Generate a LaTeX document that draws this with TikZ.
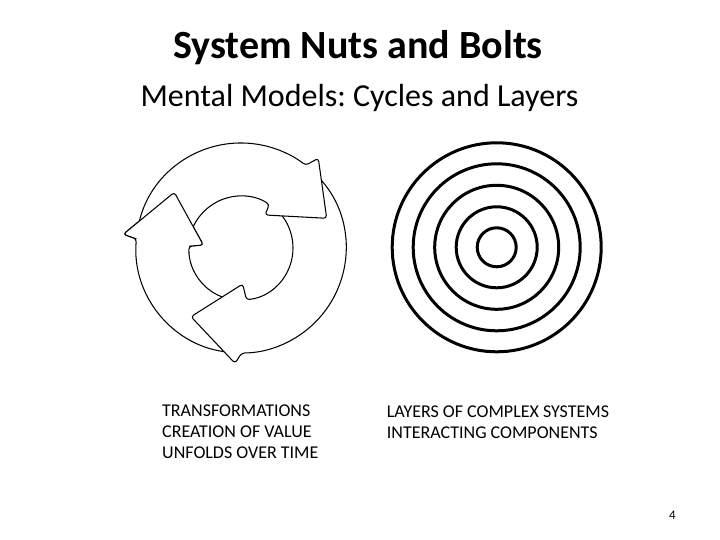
\documentclass[tikz,border=0pt]{standalone}
\usepackage{fontspec}
\setmainfont{Carlito}
\frenchspacing
\begin{document}
\begin{tikzpicture}[x=1pt,y=1pt,
  arrowshape/.style={fill=white,draw=black,line width=1.05pt,rounded corners=3pt,line join=round},
  headfill/.style={fill=white,rounded corners=3pt},
  headline/.style={draw=black,line width=1.05pt,rounded corners=3pt,line join=round},
  ring/.style={draw=black,line width=3pt},
  caption/.style={font=\fontsize{18}{21}\selectfont,align=left,anchor=north west,inner sep=0pt}]
\useasboundingbox (0,0) rectangle (720,540);
\fill[white] (0,0) rectangle (720,540);

% titles
\node[font=\bfseries\fontsize{40}{48}\selectfont,anchor=base,inner sep=0pt] (title) at (358,481.5) {System Nuts and Bolts};
\node[font=\fontsize{32}{38}\selectfont,anchor=base,inner sep=0pt] (subtitle) at (359.5,433) {Mental Models: Cycles and Layers};

% cycle of three arrows
\coordinate (cc) at (241,292);
\begin{scope}[shift={(241,292)}]
  % left arrow (body along the lower left, head on the left)
  \path[arrowshape] (262:105pt) arc[start angle=262,end angle=175,radius=105pt]
     -- (-117.7,13.7) -- (-66.7,55.7) -- (-37.7,3) -- (178:52pt)
     arc[start angle=178,end angle=262,radius=52pt] -- cycle;
  % bottom arrow (body along the right, head at the bottom)
  \path[arrowshape] (42:105pt) arc[start angle=42,end angle=-89.6,radius=105pt]
     -- (-6,-115.3) -- (-50,-68.7) -- (1.7,-36) -- (-84:52pt)
     arc[start angle=-84,end angle=42,radius=52pt] -- cycle;
  % top arrow (body along the top, head at upper right)
  \path[arrowshape] (168:105pt) arc[start angle=168,end angle=52,radius=105pt]
     -- (77.3,89.7) -- (85.7,29.7) -- (24,33) -- (57:52pt)
     arc[start angle=57,end angle=168,radius=52pt] -- cycle;
  % left head again, over the tail of the top arrow
  \path[headfill] (175:105pt) -- (-117.7,13.7) -- (-66.7,55.7) -- (-37.7,3) -- (178:52pt) -- cycle;
  \path[headline] (175:105pt) -- (-117.7,13.7) -- (-66.7,55.7) -- (-37.7,3) -- (178:52pt);
\end{scope}

% concentric layers
\coordinate (rc) at (496.7,292.7);
\draw[ring] (rc) circle[radius=104.5pt];
\draw[ring] (rc) circle[radius=83.5pt];
\draw[ring] (rc) circle[radius=62pt];
\draw[ring] (rc) circle[radius=40.5pt];
\draw[ring] (rc) circle[radius=19.5pt];

% captions
\node[caption] (capL) at (162,135) {TRANSFORMATIONS\\CREATION OF VALUE\\UNFOLDS OVER TIME};
\node[caption] (capR) at (386.7,134) {LAYERS OF COMPLEX SYSTEMS\\INTERACTING COMPONENTS};

% page number
\node[font=\fontsize{13}{15}\selectfont,anchor=base,inner sep=0pt] (pg) at (672.3,20.7) {4};
\end{tikzpicture}
\end{document}
